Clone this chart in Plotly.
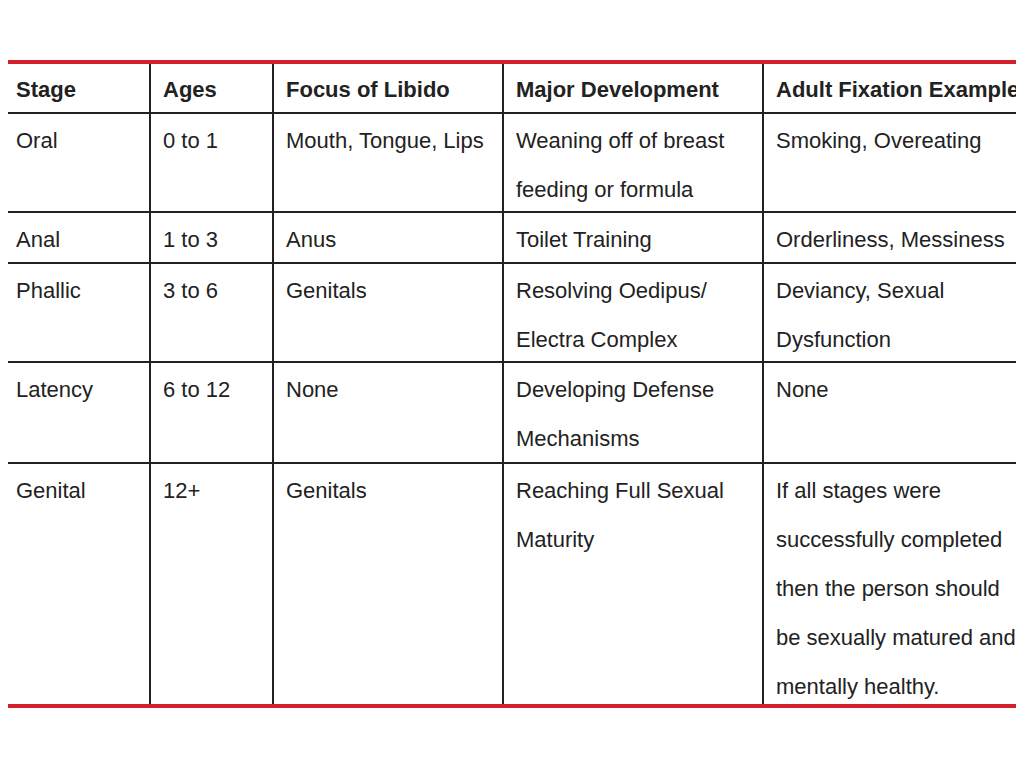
import plotly.graph_objects as go

headers = ["Stage", "Ages", "Focus of Libido", "Major Development", "Adult Fixation Example"]
stages = ["Oral", "Anal", "Phallic", "Latency", "Genital"]
ages = ["0 to 1", "1 to 3", "3 to 6", "6 to 12", "12+"]
focus = ["Mouth, Tongue, Lips", "Anus", "Genitals", "None", "Genitals"]
development = [["Weaning off of breast", "feeding or formula"], ["Toilet Training"],
               ["Resolving Oedipus/", "Electra Complex"], ["Developing Defense", "Mechanisms"],
               ["Reaching Full Sexual", "Maturity"]]
fixation = [["Smoking, Overeating"], ["Orderliness, Messiness"], ["Deviancy, Sexual", "Dysfunction"],
            ["None"], ["If all stages were", "successfully completed", "then the person should",
                       "be sexually matured and", "mentally healthy."]]

col_x = [3, 150, 273, 503, 763, 1021]
row_y = [62, 113, 212, 263, 362, 463, 706]
line_h = 49
font = dict(family="Liberation Sans, Arial, sans-serif", size=22, color="#222")

fig = go.Figure()
shapes = []
for x in col_x[1:-1]:
    shapes.append(dict(type="line", x0=x, x1=x, y0=row_y[0], y1=row_y[-1], line=dict(color="#222", width=2)))
for y in row_y[1:-1]:
    shapes.append(dict(type="line", x0=col_x[0], x1=col_x[-1], y0=y, y1=y, line=dict(color="#222", width=2)))
shapes.append(dict(type="rect", x0=col_x[0], x1=col_x[-1], y0=row_y[0], y1=row_y[-1], line=dict(color="#d4202a", width=4)))

ann = []
def cell(col, row, lines, bold=False):
    for i, t in enumerate(lines):
        ann.append(dict(x=col_x[col] + 11, y=row_y[row] + 27 + i * line_h, text=f"<b>{t}</b>" if bold else t,
                        xanchor="left", yanchor="middle", showarrow=False, font=font))
for c, h in enumerate(headers):
    cell(c, 0, [h], bold=True)
for r in range(len(stages)):
    cell(0, r + 1, [stages[r]])
    cell(1, r + 1, [ages[r]])
    cell(2, r + 1, [focus[r]])
    cell(3, r + 1, development[r])
    cell(4, r + 1, fixation[r])

fig.update_layout(width=1008, height=752, margin=dict(l=0, r=0, t=0, b=0),
                  paper_bgcolor="white", plot_bgcolor="white", shapes=shapes, annotations=ann,
                  xaxis=dict(range=[8, 1016], visible=False, fixedrange=True),
                  yaxis=dict(range=[760, 8], visible=False, fixedrange=True))
fig.write_html("out.html")
